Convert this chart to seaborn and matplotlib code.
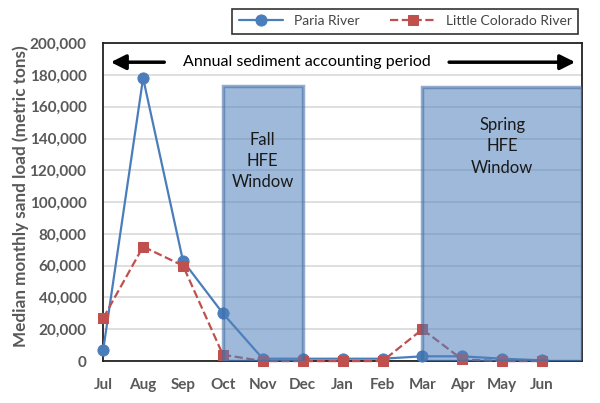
import pandas as pd
import matplotlib.pyplot as plt
import seaborn as sns
from matplotlib.patches import Rectangle

months = ['Jul', 'Aug', 'Sep', 'Oct', 'Nov', 'Dec', 'Jan', 'Feb', 'Mar', 'Apr', 'May', 'Jun']
paria = [7000, 178000, 63000, 30000, 1500, 1500, 1500, 1500, 3000, 3000, 1500, 500]
lcr = [27000, 72000, 60000, 4000, 0, 0, 0, 0, 20000, 1000, 0, 0]

# HFE windows: (start index, end index, top, label, label y)
windows = [(3, 5, 173000, 'Fall\nHFE\nWindow', 126000),
           (8, 12, 172500, 'Spring\nHFE\nWindow', 135000)]

df = pd.DataFrame({'idx': range(len(months)), 'Paria River': paria,
                   'Little Colorado River': lcr})

sns.set_style("white")
plt.rcParams['font.family'] = ['Lato', 'DejaVu Sans']

fig = plt.figure(figsize=(6, 4.03), dpi=100)
ax = fig.add_axes([0.172, 0.104, 0.798, 0.789])

blue = '#4a7ebb'
red = '#c0504d'
sns.lineplot(data=df, x='idx', y='Paria River', ax=ax, color=blue, lw=1.6,
             marker='o', markersize=8, markeredgecolor=blue, label='Paria River',
             zorder=3, clip_on=False)
sns.lineplot(data=df, x='idx', y='Little Colorado River', ax=ax, color=red, lw=1.6,
             linestyle='--', marker='s', markersize=7, markeredgecolor=red,
             label='Little Colorado River', zorder=3, clip_on=False)

for x0, x1, top, txt, ty in windows:
    ax.add_patch(Rectangle((x0, 0), x1 - x0, top, facecolor='#4f81bd', alpha=0.55,
                           edgecolor='#3d6aa3', lw=2.5, zorder=4))
    ax.text((x0 + x1) / 2, ty, txt, ha='center', va='center', fontsize=12,
            color='#1a1a1a', linespacing=1.4, zorder=5)

ax.text(5.1, 188000, 'Annual sediment accounting period', ha='center', va='center',
        fontsize=11.5, color='black', zorder=5)
ax.annotate('', xy=(0.12, 188000), xytext=(1.6, 188000),
            arrowprops=dict(arrowstyle='-|>,head_length=0.9,head_width=0.45', color='black', lw=2.5))
ax.annotate('', xy=(11.9, 188000), xytext=(8.6, 188000),
            arrowprops=dict(arrowstyle='-|>,head_length=0.9,head_width=0.45', color='black', lw=2.5))

ax.set_xlim(0, 12)
ax.set_ylim(0, 200000)
ax.set_xticks(range(len(months)))
ax.set_xticklabels(months)
ax.set_yticks(range(0, 200001, 20000))
ax.set_yticklabels([f'{v:,}' for v in range(0, 200001, 20000)])
ax.yaxis.grid(True, color='#d9d9d9', lw=1.2)
ax.set_axisbelow(True)
ax.tick_params(axis='x', direction='in', length=5, width=1.2, colors='#222222', pad=12)
ax.tick_params(axis='y', length=0, pad=12)
for lab in ax.get_xticklabels() + ax.get_yticklabels():
    lab.set_fontweight('bold')
    lab.set_color('#595959')
    lab.set_fontsize(11)
ax.set_xlabel('')
ax.set_ylabel('Median monthly sand load (metric tons)', fontsize=12.3, fontweight='bold',
              color='#595959')
ax.yaxis.set_label_coords(-0.155, 0.52)
for s in ax.spines.values():
    s.set_color('#222222')
    s.set_linewidth(1.3)

leg = ax.legend(loc='lower right', bbox_to_anchor=(0.992, 1.03), ncol=2, frameon=True,
                fancybox=False, edgecolor='black', fontsize=10, handlelength=3.2,
                borderpad=0.45, columnspacing=2.2, borderaxespad=0)
leg.get_frame().set_linewidth(1.2)
for t in leg.get_texts():
    t.set_color('#444444')

plt.savefig('out.png', dpi=100)
plt.close()
